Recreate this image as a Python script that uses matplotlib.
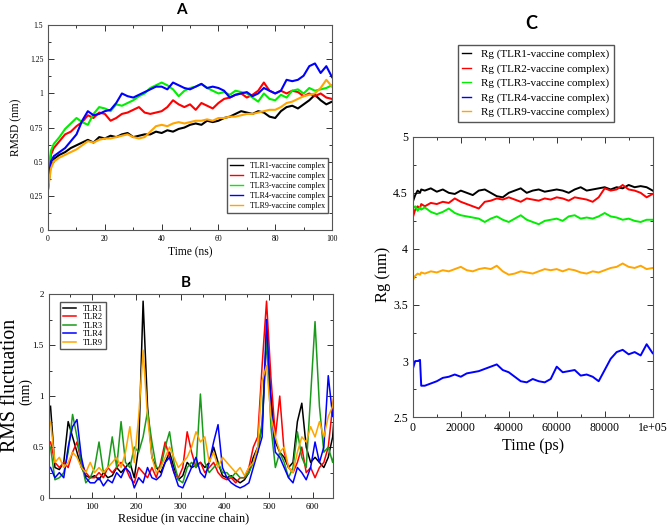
import numpy as np
import matplotlib.pyplot as plt
from matplotlib.ticker import MultipleLocator, FuncFormatter

# ---- panel A: RMSD (nm) vs time (ns)
rmsd_time = [0, 1] + list(range(2, 101, 2))
rmsd_tlr1 = [0.30, 0.50, 0.52, 0.55, 0.57, 0.60, 0.62, 0.64, 0.66, 0.64,
             0.68, 0.67, 0.69, 0.68, 0.70, 0.71, 0.68, 0.69, 0.70, 0.70,
             0.72, 0.71, 0.73, 0.72, 0.74, 0.75, 0.77, 0.78, 0.77, 0.80,
             0.79, 0.80, 0.82, 0.83, 0.85, 0.87, 0.86, 0.85, 0.87, 0.86,
             0.83, 0.82, 0.87, 0.90, 0.91, 0.89, 0.92, 0.95, 0.99, 0.95,
             0.92, 0.94]
rmsd_tlr2 = [0.35, 0.55, 0.60, 0.65, 0.70, 0.72, 0.76, 0.79, 0.84, 0.82,
             0.86, 0.85, 0.80, 0.82, 0.85, 0.86, 0.88, 0.90, 0.86, 0.85,
             0.86, 0.87, 0.90, 0.95, 0.92, 0.90, 0.92, 0.88, 0.93, 0.91,
             0.89, 0.93, 0.96, 0.97, 0.99, 1.00, 0.97, 0.99, 1.02, 1.08,
             1.02, 1.00, 1.02, 1.00, 1.02, 1.01, 0.98, 1.00, 0.98, 1.00,
             0.97, 0.96]
rmsd_tlr3 = [0.40, 0.58, 0.63, 0.68, 0.74, 0.78, 0.82, 0.79, 0.77, 0.85,
             0.90, 0.89, 0.87, 0.92, 0.91, 0.93, 0.95, 0.98, 1.00, 1.04,
             1.06, 1.08, 1.06, 1.03, 0.98, 1.02, 1.04, 1.05, 1.07, 1.04,
             1.02, 1.00, 1.01, 0.99, 1.02, 1.01, 1.00, 0.97, 0.94, 1.00,
             0.96, 0.95, 0.99, 0.97, 1.02, 1.03, 1.00, 1.04, 1.02, 1.03,
             1.04, 1.06]
rmsd_tlr4 = [0.35, 0.50, 0.54, 0.57, 0.60, 0.65, 0.70, 0.80, 0.87, 0.84,
             0.85, 0.87, 0.88, 0.93, 1.00, 0.98, 0.97, 0.99, 1.01, 1.03,
             1.05, 1.05, 1.03, 1.08, 1.06, 1.04, 1.03, 1.05, 1.07, 1.04,
             1.05, 1.04, 1.02, 0.97, 0.99, 1.00, 1.01, 0.98, 1.00, 1.04,
             1.02, 1.00, 1.02, 1.10, 1.09, 1.10, 1.13, 1.20, 1.22, 1.15,
             1.20, 1.12]
rmsd_tlr9 = [0.30, 0.45, 0.50, 0.53, 0.55, 0.57, 0.59, 0.62, 0.65, 0.64,
             0.66, 0.67, 0.67, 0.68, 0.69, 0.70, 0.68, 0.67, 0.68, 0.72,
             0.76, 0.77, 0.76, 0.78, 0.79, 0.78, 0.79, 0.80, 0.80, 0.81,
             0.80, 0.82, 0.82, 0.83, 0.83, 0.84, 0.85, 0.85, 0.86, 0.87,
             0.88, 0.88, 0.90, 0.93, 0.94, 0.96, 0.98, 0.99, 1.00, 1.04,
             1.10, 1.05]

# ---- panel B: RMSF (nm) per residue
residue = list(range(5, 660, 10))
rmsf_tlr1 = [0.90, 0.30, 0.28, 0.35, 0.75, 0.60, 0.45, 0.30, 0.22, 0.20,
             0.22, 0.18, 0.25, 0.20, 0.22, 0.30, 0.25, 0.30, 0.35, 0.20,
             0.50, 1.93, 0.90, 0.40, 0.30, 0.25, 0.35, 0.45, 0.30, 0.18,
             0.22, 0.35, 0.30, 0.32, 0.35, 0.30, 0.35, 0.50, 0.35, 0.22,
             0.20, 0.22, 0.18, 0.15, 0.18, 0.25, 0.40, 0.50, 0.70, 1.55,
             1.00, 0.55, 0.45, 0.40, 0.30, 0.35, 0.75, 0.93, 0.50, 0.35,
             0.40, 0.35, 0.30, 0.40, 0.60, 1.20]
rmsf_tlr2 = [0.55, 0.35, 0.30, 0.35, 0.30, 0.45, 0.55, 0.35, 0.25, 0.20,
             0.20, 0.25, 0.20, 0.30, 0.25, 0.30, 0.35, 0.30, 0.20, 0.15,
             0.30, 0.25, 0.20, 0.30, 0.20, 0.35, 0.55, 0.40, 0.25, 0.20,
             0.30, 0.65, 0.45, 0.30, 0.35, 0.25, 0.30, 0.35, 0.25, 0.20,
             0.18, 0.20, 0.15, 0.20, 0.20, 0.30, 0.50, 0.60, 1.30, 1.93,
             1.18, 0.60, 1.00, 0.45, 0.30, 0.25, 0.35, 0.50, 0.25, 0.30,
             0.20, 0.30, 0.35, 0.50, 0.90, 1.25]
rmsf_tlr3 = [0.50, 0.18, 0.20, 0.25, 0.45, 0.82, 0.60, 0.35, 0.15, 0.20,
             0.30, 0.55, 0.25, 0.30, 0.60, 0.30, 0.75, 0.35, 0.30, 0.50,
             0.45, 0.60, 0.85, 0.55, 0.30, 0.30, 0.50, 0.65, 0.35, 0.18,
             0.15, 0.30, 0.35, 0.30, 1.02, 0.35, 0.25, 0.30, 0.35, 0.25,
             0.25, 0.20, 0.25, 0.20, 0.20, 0.25, 0.35, 0.45, 0.75, 1.60,
             0.70, 0.30, 0.45, 0.35, 0.20, 0.30, 0.65, 0.40, 0.30, 1.00,
             1.73, 0.90, 0.45, 0.50, 0.35, 0.60]
rmsf_tlr4 = [0.30, 0.20, 0.25, 0.20, 0.50, 0.70, 0.77, 0.40, 0.20, 0.15,
             0.15, 0.20, 0.12, 0.18, 0.15, 0.25, 0.20, 0.30, 0.25, 0.10,
             0.20, 0.15, 0.30, 0.20, 0.18, 0.22, 0.35, 0.40, 0.25, 0.12,
             0.10, 0.20, 0.30, 0.40, 0.25, 0.20, 0.35, 0.55, 0.72, 0.30,
             0.20, 0.15, 0.12, 0.10, 0.12, 0.15, 0.30, 0.45, 0.60, 1.75,
             0.90, 0.45, 0.40, 0.30, 0.20, 0.15, 0.30, 0.25, 0.18, 0.30,
             0.55, 0.35, 0.50, 1.20, 0.80, 0.95]
rmsf_tlr9 = [0.75, 0.35, 0.40, 0.30, 0.35, 0.45, 0.40, 0.30, 0.25, 0.35,
             0.25, 0.30, 0.25, 0.30, 0.35, 0.40, 0.30, 0.45, 0.70, 0.35,
             0.80, 1.45, 0.80, 0.40, 0.25, 0.30, 0.40, 0.50, 0.40, 0.30,
             0.35, 0.40, 0.50, 0.65, 0.55, 0.60, 0.35, 0.45, 0.30, 0.40,
             0.35, 0.30, 0.25, 0.30, 0.22, 0.30, 0.35, 0.50, 1.15, 1.30,
             0.80, 0.60, 0.45, 0.50, 0.30, 0.25, 0.45, 0.60, 0.55, 0.70,
             0.60, 0.75, 0.60, 0.80, 0.90, 1.30]

# ---- panel C: Rg (nm) vs time (ps)
rg_time = [0, 1000, 2000, 3000, 3500] + list(range(5000, 100001, 2500))
rg_tlr1 = [4.42, 4.48, 4.52, 4.50, 4.53, 4.52, 4.54, 4.51, 4.53, 4.50,
           4.49, 4.52, 4.50, 4.48, 4.52, 4.53, 4.50, 4.47, 4.46, 4.50,
           4.52, 4.54, 4.50, 4.52, 4.53, 4.51, 4.52, 4.53, 4.52, 4.50,
           4.53, 4.55, 4.52, 4.53, 4.54, 4.55, 4.53, 4.55, 4.54, 4.57,
           4.55, 4.56, 4.55, 4.52]
rg_tlr2 = [4.28, 4.35, 4.38, 4.36, 4.40, 4.38, 4.41, 4.40, 4.42, 4.41,
           4.45, 4.42, 4.40, 4.38, 4.36, 4.42, 4.43, 4.45, 4.44, 4.46,
           4.44, 4.42, 4.45, 4.44, 4.43, 4.45, 4.44, 4.46, 4.45, 4.43,
           4.46, 4.45, 4.44, 4.42, 4.46, 4.54, 4.52, 4.53, 4.57, 4.53,
           4.52, 4.50, 4.46, 4.49]
rg_tlr3 = [4.36, 4.38, 4.34, 4.37, 4.35, 4.37, 4.33, 4.31, 4.33, 4.36,
           4.32, 4.30, 4.29, 4.28, 4.27, 4.24, 4.27, 4.29, 4.26, 4.24,
           4.27, 4.30, 4.26, 4.24, 4.22, 4.25, 4.26, 4.27, 4.25, 4.29,
           4.30, 4.27, 4.28, 4.27, 4.29, 4.32, 4.29, 4.28, 4.26, 4.27,
           4.25, 4.24, 4.26, 4.26]
rg_tlr4 = [2.93, 3.00, 3.00, 3.01, 2.78, 2.78, 2.80, 2.82, 2.85, 2.86,
           2.88, 2.86, 2.89, 2.90, 2.91, 2.93, 2.95, 2.97, 2.92, 2.90,
           2.86, 2.82, 2.81, 2.84, 2.82, 2.81, 2.84, 2.95, 2.90, 2.91,
           2.92, 2.87, 2.88, 2.86, 2.82, 2.92, 3.02, 3.08, 3.10, 3.06,
           3.08, 3.05, 3.15, 3.07]
rg_tlr9 = [3.72, 3.76, 3.78, 3.77, 3.79, 3.78, 3.80, 3.79, 3.81, 3.80,
           3.82, 3.84, 3.81, 3.80, 3.82, 3.83, 3.82, 3.85, 3.80, 3.77,
           3.78, 3.80, 3.79, 3.78, 3.80, 3.82, 3.81, 3.82, 3.80, 3.82,
           3.81, 3.79, 3.78, 3.80, 3.79, 3.81, 3.83, 3.84, 3.87, 3.84,
           3.83, 3.85, 3.82, 3.83]

tlr_names = ['TLR1', 'TLR2', 'TLR3', 'TLR4', 'TLR9']
rg_xticks = [0, 20000, 40000, 60000, 80000, 100000]
rg_xticklabels = ['0', '20000', '40000', '60000', '80000', '1e+05']

cols = ['black', 'red', '#00ee00', 'blue', 'orange']
cols_b = ['black', 'red', '#1a9a1a', 'blue', 'orange']
serif = 'Liberation Serif'
plt.rcParams['font.family'] = serif


def grace_axes(ax, fs):
    ax.tick_params(which='both', direction='in', top=True, right=True,
                   labelsize=fs, width=0.7, colors='#333333', labelcolor='black')
    ax.tick_params(which='major', length=4)
    ax.tick_params(which='minor', length=2)
    for s in ax.spines.values():
        s.set_linewidth(0.8)
        s.set_color('#555555')
    ax.xaxis.set_major_formatter(FuncFormatter(lambda v, p: f"{v:g}"))
    ax.yaxis.set_major_formatter(FuncFormatter(lambda v, p: f"{v:g}"))


fig = plt.figure(figsize=(6.68, 5.26), dpi=100)

# A
axA = fig.add_axes([0.072, 0.563, 0.425, 0.389])
for y, c, n in zip([rmsd_tlr1, rmsd_tlr2, rmsd_tlr3, rmsd_tlr4, rmsd_tlr9], cols, tlr_names):
    axA.plot(rmsd_time, y, color=c, lw=1.5, label=n + '-vaccine complex')
axA.set_xlim(0, 100)
axA.set_ylim(0, 1.5)
axA.xaxis.set_major_locator(MultipleLocator(20))
axA.xaxis.set_minor_locator(MultipleLocator(10))
axA.yaxis.set_major_locator(MultipleLocator(0.25))
axA.yaxis.set_minor_locator(MultipleLocator(0.125))
grace_axes(axA, 5.5)
axA.set_xlabel('Time (ns)', fontsize=8.3)
axA.set_ylabel('RMSD (nm)', fontsize=8.3)
axA.xaxis.set_label_coords(0.5, -0.082)
axA.yaxis.set_label_coords(-0.092, 0.5)
legA = axA.legend(loc='lower right', bbox_to_anchor=(0.986, 0.083), fontsize=5.8,
                  fancybox=False, edgecolor='#555555', framealpha=1, handlelength=1.6,
                  labelspacing=0.25, borderpad=0.4, handletextpad=0.8, borderaxespad=0)
for h in legA.get_lines():
    h.set_linewidth(1.0)

# B
axB = fig.add_axes([0.073, 0.053, 0.425, 0.388])
for y, c, n in zip([rmsf_tlr1, rmsf_tlr2, rmsf_tlr3, rmsf_tlr4, rmsf_tlr9], cols_b, tlr_names):
    axB.plot(residue, y, color=c, lw=1.1, label=n)
axB.set_xlim(1, 645)
axB.set_ylim(0, 2)
axB.xaxis.set_major_locator(MultipleLocator(100))
axB.xaxis.set_minor_locator(MultipleLocator(50))
axB.yaxis.set_major_locator(MultipleLocator(0.5))
axB.yaxis.set_minor_locator(MultipleLocator(0.25))
grace_axes(axB, 6.5)
axB.set_xlabel('Residue (in vaccine chain)', fontsize=8.8)
axB.xaxis.set_label_coords(0.475, -0.069)
axB.text(-0.136, 0.554, 'RMS fluctuation', transform=axB.transAxes, rotation=90,
         fontsize=14.3, ha='center', va='center')
axB.text(-0.08, 0.521, '(nm)', transform=axB.transAxes, rotation=90,
         fontsize=10, ha='center', va='center')
axB.legend(loc='upper left', bbox_to_anchor=(0.039, 0.961), fontsize=6,
           fancybox=False, edgecolor='#555555', framealpha=1, handlelength=1.6,
           labelspacing=0.05, borderpad=0.35, handletextpad=0.8, borderaxespad=0)

# C
axC = fig.add_axes([0.618, 0.207, 0.359, 0.533])
for y, c, n in zip([rg_tlr1, rg_tlr2, rg_tlr3, rg_tlr4, rg_tlr9], cols, tlr_names):
    axC.plot(rg_time, y, color=c, lw=1.4, label='Rg (' + n + '-vaccine complex)')
axC.set_xlim(0, 100000)
axC.set_ylim(2.5, 5)
axC.xaxis.set_minor_locator(MultipleLocator(10000))
axC.yaxis.set_major_locator(MultipleLocator(0.5))
axC.yaxis.set_minor_locator(MultipleLocator(0.25))
grace_axes(axC, 8.5)
axC.set_xticks(rg_xticks)
axC.set_xticklabels(rg_xticklabels)
axC.set_xlabel('Time (ps)', fontsize=11.5)
axC.set_ylabel('Rg (nm)', fontsize=11.8)
axC.xaxis.set_label_coords(0.5, -0.075)
axC.yaxis.set_label_coords(-0.092, 0.51)
leg = axC.legend(loc='upper center', bbox_to_anchor=(0.8017, 0.9144),
                 bbox_transform=fig.transFigure, fontsize=8,
                 fancybox=False, edgecolor='#555555', framealpha=1, handlelength=0.8,
                 labelspacing=0.4, borderpad=0.4, handletextpad=0.9, borderaxespad=0)
for h in leg.get_lines():
    h.set_linewidth(1.0)

# panel letters
for letter, px, py, fs in [('A', 181.5, 10.5, 11), ('B', 186, 282.7, 11), ('C', 531.7, 23.3, 13)]:
    fig.text(px / 668, 1 - py / 526, letter, fontsize=fs, fontweight='bold',
             family='Lato', ha='center', va='center')

fig.savefig('out.png', dpi=100)
